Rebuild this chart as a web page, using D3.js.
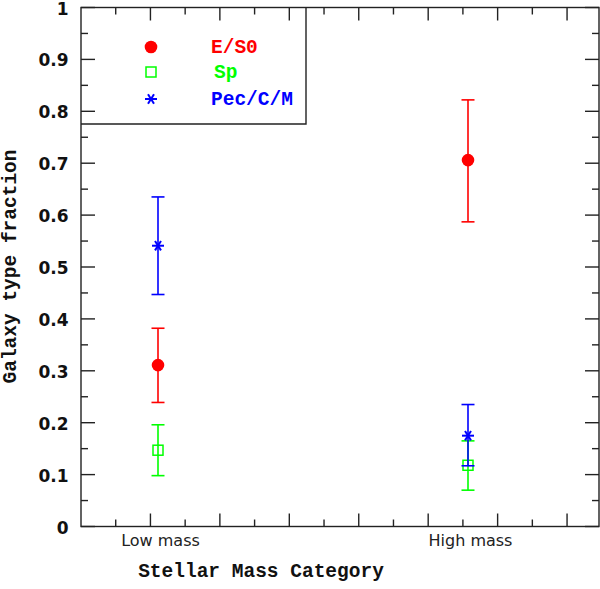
<!DOCTYPE html>
<html>
<head>
<meta charset="utf-8">
<script src="https://cdn.jsdelivr.net/npm/d3@7"></script>
<style>
  html, body { margin: 0; padding: 0; background: #fff; }
  svg { display: block; }
</style>
</head>
<body>
<svg id="chart" width="600" height="589"></svg>
<script>
// ---- data ----
const categories = ["Low mass", "High mass"];
const seriesNames = ["E/S0", "Sp", "Pec/C/M"];
const seriesColors = ["#ff0000", "#00ff00", "#0000ff"];
const es0Val = [0.311, 0.706];
const es0Lo  = [0.239, 0.587];
const es0Hi  = [0.382, 0.822];
const spVal  = [0.147, 0.118];
const spLo   = [0.098, 0.070];
const spHi   = [0.196, 0.165];
const pecVal = [0.541, 0.175];
const pecLo  = [0.447, 0.117];
const pecHi  = [0.635, 0.235];
const yTickLabels = ["0", "0.1", "0.2", "0.3", "0.4", "0.5", "0.6", "0.7", "0.8", "0.9", "1"];

// ---- layout ----
const L = 81, R = 599, T = 7.5, B = 526.5;
const svg = d3.select("#chart");
const y = d3.scaleLinear().domain([0, 1]).range([B, T]);
const xt = d3.scaleLinear().domain([0, 7.46]).range([L, R]);   // tick frame scale
const xc = d3.scalePoint().domain(categories).range([158, 468]);
const axisColor = "#222";

// frame
svg.append("rect").attr("x", L).attr("y", T).attr("width", R - L).attr("height", B - T)
  .attr("fill", "none").attr("stroke", axisColor).attr("stroke-width", 1.4);

// y ticks
const yMajor = d3.range(0, 11).map(i => i / 10);
const yMinor = d3.range(0, 10).map(i => i / 10 + 0.05);
const g = svg.append("g").attr("stroke", axisColor).attr("stroke-width", 1.4);
yMajor.forEach(v => {
  g.append("line").attr("x1", L).attr("x2", L + 14).attr("y1", y(v)).attr("y2", y(v));
  g.append("line").attr("x1", R).attr("x2", R - 14).attr("y1", y(v)).attr("y2", y(v));
});
yMinor.forEach(v => {
  g.append("line").attr("x1", L).attr("x2", L + 7).attr("y1", y(v)).attr("y2", y(v));
  g.append("line").attr("x1", R).attr("x2", R - 7).attr("y1", y(v)).attr("y2", y(v));
});
// x ticks
const xMajor = d3.range(1, 8);
const xMinor = d3.range(0, 8).map(i => i + 0.5).filter(v => v <= 7.46);
xMajor.forEach(v => {
  g.append("line").attr("x1", xt(v)).attr("x2", xt(v)).attr("y1", B).attr("y2", B - 13);
  g.append("line").attr("x1", xt(v)).attr("x2", xt(v)).attr("y1", T).attr("y2", T + 13);
});
xMinor.forEach(v => {
  g.append("line").attr("x1", xt(v)).attr("x2", xt(v)).attr("y1", B).attr("y2", B - 7);
  g.append("line").attr("x1", xt(v)).attr("x2", xt(v)).attr("y1", T).attr("y2", T + 7);
});

// y tick labels
svg.append("g").selectAll("text").data(yTickLabels).join("text")
  .attr("x", 68.5).attr("y", (d, i) => Math.max(y(yMajor[i]) + 7, 15))
  .attr("text-anchor", "end")
  .attr("font-family", "DejaVu Sans").attr("font-weight", "bold").attr("font-size", 17)
  .attr("fill", "#111").text(d => d);

// x category labels
svg.append("g").selectAll("text").data(categories).join("text")
  .attr("x", d => xc(d) + 2.5).attr("y", 546)
  .attr("text-anchor", "middle")
  .attr("font-family", "DejaVu Sans").attr("font-size", 16)
  .attr("fill", "#222").text(d => d);

// axis titles
svg.append("text").attr("x", 261).attr("y", 577).attr("text-anchor", "middle")
  .attr("font-family", "Liberation Mono").attr("font-weight", "bold").attr("font-size", 19.5)
  .attr("fill", "#111").text("Stellar Mass Category");
svg.append("text").attr("transform", "translate(16,266.5) rotate(-90)").attr("text-anchor", "middle")
  .attr("font-family", "Liberation Mono").attr("font-weight", "bold").attr("font-size", 19.5)
  .attr("fill", "#111").text("Galaxy type fraction");

// markers
function drawMarker(sel, type, cx, cy, color) {
  if (type === 0) {
    sel.append("circle").attr("cx", cx).attr("cy", cy).attr("r", 6.3).attr("fill", color);
  } else if (type === 1) {
    sel.append("rect").attr("x", cx - 5).attr("y", cy - 5).attr("width", 10).attr("height", 10)
      .attr("fill", "none").attr("stroke", color).attr("stroke-width", 1.5);
  } else {
    const r = 6;
    [0, 60, 120].forEach(a => {
      const rad = a * Math.PI / 180;
      sel.append("line")
        .attr("x1", cx - r * Math.cos(rad)).attr("y1", cy - r * Math.sin(rad) * 0.9)
        .attr("x2", cx + r * Math.cos(rad)).attr("y2", cy + r * Math.sin(rad) * 0.9)
        .attr("stroke", color).attr("stroke-width", 2);
    });
  }
}

const series = [
  { vals: es0Val, lo: es0Lo, hi: es0Hi },
  { vals: spVal, lo: spLo, hi: spHi },
  { vals: pecVal, lo: pecLo, hi: pecHi }
];
const plot = svg.append("g");
series.forEach((s, si) => {
  const color = seriesColors[si];
  categories.forEach((c, ci) => {
    const cx = xc(c);
    const gg = plot.append("g").attr("stroke", color).attr("stroke-width", 1.6);
    gg.append("line").attr("x1", cx).attr("x2", cx).attr("y1", y(s.lo[ci])).attr("y2", y(s.hi[ci]));
    gg.append("line").attr("x1", cx - 6.5).attr("x2", cx + 6.5).attr("y1", y(s.lo[ci])).attr("y2", y(s.lo[ci]));
    gg.append("line").attr("x1", cx - 6.5).attr("x2", cx + 6.5).attr("y1", y(s.hi[ci])).attr("y2", y(s.hi[ci]));
    drawMarker(plot, si, cx, y(s.vals[ci]), color);
  });
});

// legend
svg.append("path").attr("d", `M${L},124 H306 V${T}`).attr("fill", "none")
  .attr("stroke", axisColor).attr("stroke-width", 1.4);
const legY = [47, 72, 99];
seriesNames.forEach((n, i) => {
  drawMarker(svg, i, 151, legY[i], seriesColors[i]);
  svg.append("text").attr("x", i === 1 ? 214 : 211).attr("y", legY[i] + 5.5)
    .attr("font-family", "Liberation Mono").attr("font-weight", "bold").attr("font-size", 19.5)
    .attr("fill", seriesColors[i]).text(n);
});
</script>
</body>
</html>
